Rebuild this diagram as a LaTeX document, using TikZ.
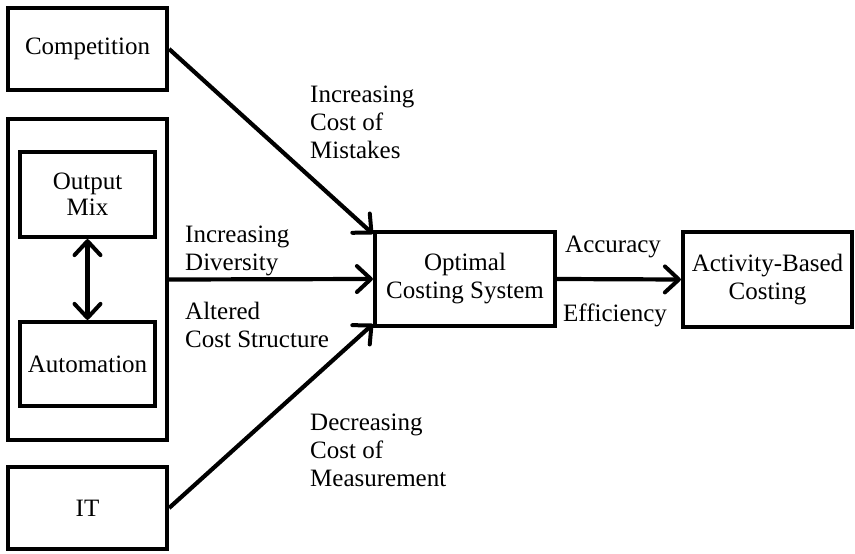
\documentclass[tikz,border=0pt]{standalone}
\usepackage{fontspec}
\setmainfont{Liberation Serif}
\usetikzlibrary{arrows.meta}
\begin{document}
\begin{tikzpicture}[x=1pt,y=-1pt,
  txt/.style={font=\fontsize{25}{28}\selectfont},
  box/.style={txt, draw, line width=4.2pt, inner sep=0pt, align=center},
  lbl/.style={txt, inner sep=0pt, align=left},
  barb/.tip={Straight Barb[length=14pt,width=26pt,line width=4pt,round]},
  link/.style={line width=4.2pt, -barb},
]
\useasboundingbox (0,0) rectangle (855,554);

% left column: driving factors
\node[box, minimum width=159pt, minimum height=82pt] (comp) at (87.5,49) {Competition};
\node[box, minimum width=159pt, minimum height=321pt] (group) at (87.5,279.5) {};
\node[box, minimum width=135pt, minimum height=85pt, font=\fontsize{25}{26}\selectfont] (mix) at (87.5,194.5) {Output\\Mix};
\node[box, minimum width=135pt, minimum height=84pt] (auto) at (87.5,364) {Automation};
\node[box, minimum width=159pt, minimum height=82pt] (it) at (87.5,508) {IT};

% centre and right
\node[box, minimum width=180pt, minimum height=94pt] (opt) at (465,279) {Optimal\\Costing System};
\node[box, minimum width=169pt, minimum height=95pt] (abc) at (767.5,279.5) {Activity-Based\\Costing};

% connectors
\draw[line width=4.2pt, barb-barb] (mix.south) -- (auto.north);
\draw[link] (comp.east) -- ([yshift=-4pt]opt.north west);
\draw[link] (group.east) -- (opt.west);
\draw[link] (it.east) -- ([yshift=4pt]opt.south west);
\draw[link] (opt.east) -- (abc.west);

% connector labels (anchored at the baseline of their last line)
\node[lbl, anchor=base west] (lmist) at (310,158) {Increasing\\Cost of\\Mistakes};
\node[lbl, anchor=base west] (ldiv) at (185,270) {Increasing\\Diversity};
\node[lbl, anchor=base west] (lstr) at (185,347) {Altered\\Cost Structure};
\node[lbl, anchor=base west] (lmeas) at (310,486) {Decreasing\\Cost of\\Measurement};
\node[lbl, anchor=base west] (lacc) at (565,252) {Accuracy};
\node[lbl, anchor=base west] (leff) at (563,321) {Efficiency};
\end{tikzpicture}
\end{document}
